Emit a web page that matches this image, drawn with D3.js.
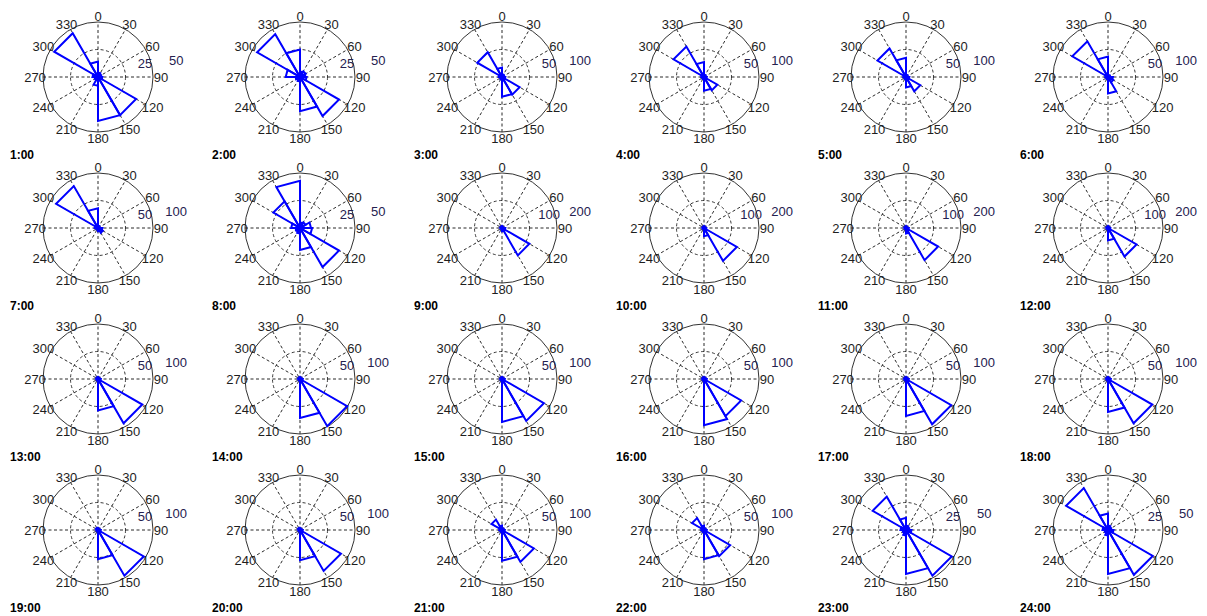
<!DOCTYPE html>
<html>
<head>
<meta charset="utf-8">
<script src="https://cdn.jsdelivr.net/npm/d3@7"></script>
<style>
  html, body { margin: 0; padding: 0; background: #fff; overflow: hidden; }
  text { font-family: "Liberation Sans", Arial, sans-serif; }
</style>
</head>
<body>
<svg id="chart" width="1207" height="616"></svg>
<script>
// Hour of day for each wind rose
const hourLabels = ["1:00","2:00","3:00","4:00","5:00","6:00",
                    "7:00","8:00","9:00","10:00","11:00","12:00",
                    "13:00","14:00","15:00","16:00","17:00","18:00",
                    "19:00","20:00","21:00","22:00","23:00","24:00"];

// Direction bins (start angle, degrees clockwise from north), 30 degrees wide
const binStarts = [0, 30, 60, 90, 120, 150, 180, 210, 240, 270, 300, 330];
const binWidth = 30;

// Angle tick labels around each rose
const angleTicks = [0, 30, 60, 90, 120, 150, 180, 210, 240, 270, 300, 330];

// Outer ring value of each rose
const ringMax = [50, 50, 100, 100, 100, 100,
                 100, 50, 200, 200, 200, 200,
                 100, 100, 100, 100, 100, 100,
                 100, 100, 100, 100, 50, 50];

// Counts per direction bin, one row per hour
const petalCounts = [
  [4, 3, 3, 4, 40, 40, 8, 3, 3, 5, 46, 14],   // 1:00
  [5, 6, 5, 6, 41, 31, 4, 3, 4, 13, 45, 25],  // 2:00
  [5, 4, 4, 6, 37, 36, 5, 3, 3, 6, 52, 17],   // 3:00
  [4, 3, 3, 5, 28, 25, 4, 3, 3, 5, 64, 27],   // 4:00
  [4, 3, 3, 6, 30, 19, 4, 3, 3, 5, 60, 35],   // 5:00
  [3, 3, 4, 9, 11, 30, 4, 3, 3, 5, 75, 37],   // 6:00
  [4, 3, 3, 8, 10, 6, 3, 3, 3, 6, 88, 36],    // 7:00
  [5, 6, 10, 11, 41, 20, 5, 4, 4, 8, 28, 43], // 8:00
  [3, 3, 4, 12, 115, 12, 3, 3, 2, 3, 6, 5],   // 9:00
  [3, 3, 3, 8, 138, 30, 4, 2, 2, 3, 5, 5],    // 10:00
  [3, 3, 3, 10, 135, 20, 4, 2, 2, 3, 5, 5],   // 11:00
  [3, 3, 3, 8, 120, 45, 4, 2, 2, 3, 5, 5],    // 12:00
  [2, 2, 3, 5, 93, 57, 3, 2, 2, 2, 3, 3],     // 13:00
  [2, 2, 3, 5, 99, 71, 3, 2, 2, 2, 3, 3],     // 14:00
  [2, 2, 3, 5, 88, 78, 3, 2, 2, 2, 3, 3],     // 15:00
  [2, 2, 3, 5, 78, 84, 3, 2, 2, 2, 3, 3],     // 16:00
  [2, 2, 3, 5, 95, 67, 3, 2, 2, 2, 3, 3],     // 17:00
  [2, 2, 3, 5, 93, 60, 3, 2, 2, 2, 3, 3],     // 18:00
  [2, 2, 3, 5, 96, 53, 3, 2, 2, 2, 4, 3],     // 19:00
  [2, 2, 3, 5, 86, 55, 3, 2, 2, 2, 4, 3],     // 20:00
  [3, 3, 3, 5, 67, 56, 4, 3, 3, 5, 22, 8],    // 21:00
  [3, 3, 3, 5, 55, 53, 4, 3, 3, 5, 25, 8],    // 22:00
  [4, 3, 3, 5, 48, 40, 5, 3, 3, 5, 35, 11],   // 23:00
  [4, 3, 3, 5, 47, 40, 5, 3, 3, 5, 44, 15]    // 24:00
];

const svg = d3.select("#chart");
svg.append("rect").attr("width", 1207).attr("height", 616).attr("fill", "#fff");

const outerR = 55;
const colX = d3.scaleLinear().domain([0, 5]).range([98, 1108]);
const rowY = d3.scaleLinear().domain([0, 3]).range([77, 530]);
const toRad = d3.scaleLinear().domain([0, 360]).range([0, 2 * Math.PI]);

// radial line: angle 0 at 12 o'clock, increasing clockwise (compass)
const petalLine = d3.lineRadial()
  .angle(d => toRad(d.a))
  .radius(d => d.r)
  .curve(d3.curveLinearClosed);

hourLabels.forEach((label, h) => {
  const cx = colX(h % 6), cy = rowY(Math.floor(h / 6));
  const g = svg.append("g").attr("transform", `translate(${cx},${cy})`);
  const r = d3.scaleLinear().domain([0, ringMax[h]]).range([0, outerR]);
  const R = r(ringMax[h]);

  // dashed spokes through the centre
  angleTicks.filter(a => a < 180).forEach(a => {
    const t = toRad(a);
    g.append("line")
      .attr("x1", -R * Math.sin(t)).attr("y1", R * Math.cos(t))
      .attr("x2", R * Math.sin(t)).attr("y2", -R * Math.cos(t))
      .attr("stroke", "#111").attr("stroke-width", 0.9)
      .attr("stroke-dasharray", "3,2.5");
  });

  // inner dashed ring
  g.append("circle").attr("r", r(ringMax[h] / 2))
    .attr("fill", "none").attr("stroke", "#222").attr("stroke-width", 0.9)
    .attr("stroke-dasharray", "3,2.5");

  // outer ring
  g.append("circle").attr("r", R)
    .attr("fill", "none").attr("stroke", "#333").attr("stroke-width", 1);

  // angle labels
  g.selectAll("text.ang").data(angleTicks).join("text")
    .attr("class", "ang")
    .attr("x", a => (R + 8) * Math.sin(toRad(a)))
    .attr("y", a => -(R + 6) * Math.cos(toRad(a)) + 4.6)
    .attr("text-anchor", "middle")
    .attr("font-size", 13)
    .attr("fill", "#1e1e1e")
    .text(a => a);

  // ring value labels
  [ringMax[h] / 2, ringMax[h]].forEach(v => {
    const rr = r(v);
    g.append("text")
      .attr("x", 16 + 1.13 * rr)
      .attr("y", -11 - 0.11 * rr + 4.6)
      .attr("text-anchor", "middle")
      .attr("font-size", 13)
      .attr("fill", "#25214f")
      .text(v);
  });

  // rose petals: centre -> bin start -> bin end -> centre
  petalCounts[h].forEach((c, i) => {
    if (c <= 0) return;
    const pts = [
      { a: 0, r: 0 },
      { a: binStarts[i], r: r(c) },
      { a: binStarts[i] + binWidth, r: r(c) }
    ];
    g.append("path")
      .attr("d", petalLine(pts))
      .attr("fill", "none")
      .attr("stroke", "#0000ff")
      .attr("stroke-width", 2)
      .attr("stroke-linejoin", "miter");
  });

  // hour title
  svg.append("text")
    .attr("x", cx - 88).attr("y", cy + 82)
    .attr("font-family", "'DejaVu Sans', Verdana, sans-serif")
    .attr("font-weight", "bold")
    .attr("font-size", 12)
    .attr("fill", "#000")
    .text(label);
});
</script>
</body>
</html>
